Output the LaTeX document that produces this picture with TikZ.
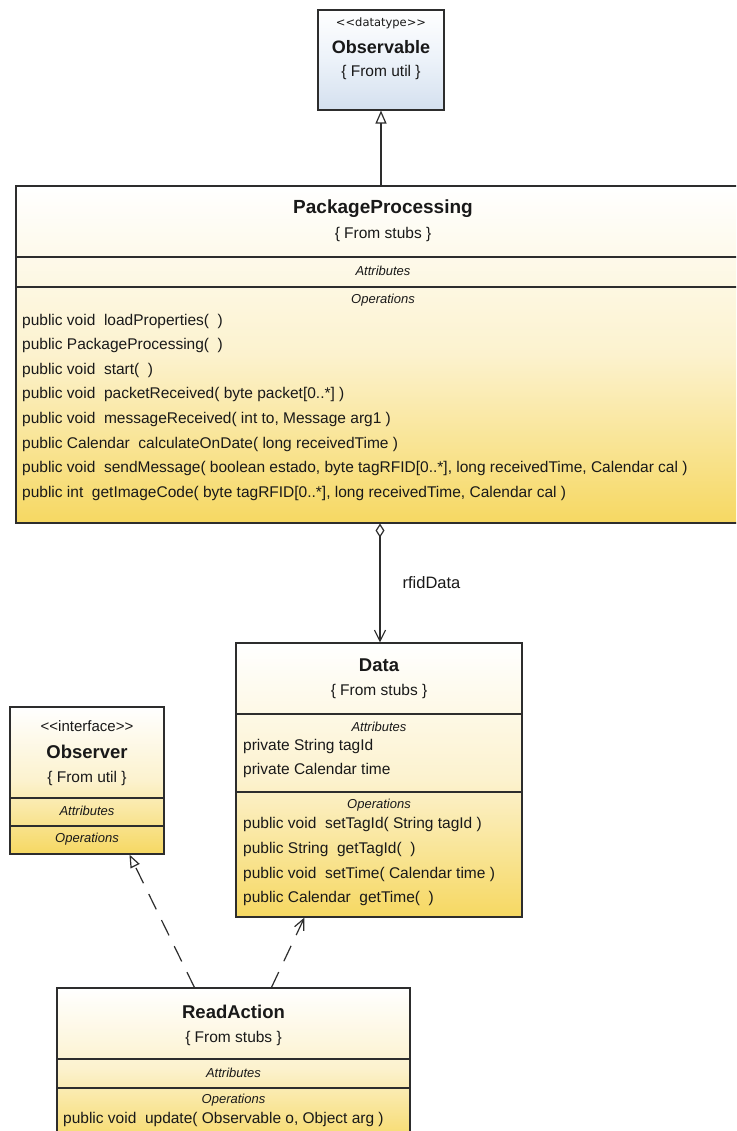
\documentclass[tikz,border=0pt]{standalone}
\usepackage{fontspec}
\setmainfont{Liberation Sans}
\newfontfamily\dejavu{DejaVu Sans}
\usetikzlibrary{arrows.meta,calc}
\definecolor{gold}{RGB}{246,216,98}
\definecolor{cream}{RGB}{252,242,206}
\definecolor{skyb}{RGB}{212,224,239}
\definecolor{skym}{RGB}{236,242,249}
\definecolor{edge}{RGB}{45,45,45}
\definecolor{ink}{RGB}{25,25,25}
\begin{document}
\begin{tikzpicture}[x=1pt,y=-1pt,
  classbox/.style={draw=edge, line width=1.1pt, inner sep=0pt, top color=white, bottom color=gold, middle color=cream},
  bluebox/.style={draw=edge, line width=1.1pt, inner sep=0pt, top color=white, bottom color=skyb, middle color=skym},
  sepline/.style={draw=edge, line width=1.1pt},
  title/.style={text=ink, inner sep=0pt, font=\fontsize{18.5}{22}\selectfont\bfseries},
  sub/.style={text=ink, inner sep=0pt, font=\fontsize{15.5}{18}\selectfont},
  stereo/.style={text=ink, inner sep=0pt, font=\fontsize{15}{18}\selectfont},
  sect/.style={text=ink, inner sep=0pt, font=\fontsize{13}{15}\selectfont\itshape},
  op/.style={text=ink, inner sep=0pt, anchor=west, font=\fontsize{15.5}{18}\selectfont},
  conn/.style={draw=edge, line width=1.2pt},
  dconn/.style={draw=edge, line width=1.2pt, dash pattern=on 17pt off 12pt},
  lbl/.style={text=ink, inner sep=0pt, font=\fontsize{16.5}{19}\selectfont}
]
\useasboundingbox (0,0) rectangle (736,1131);
\clip (0,0) rectangle (736,1131);
\fill[white] (0,0) rectangle (736,1131);

% ---------- Observable ----------
\node[bluebox, minimum width=126pt, minimum height=100pt] (obs) at (381,60) {};
\node[stereo, font=\dejavu\fontsize{11.5}{14}\selectfont] (obsst) at (381,23) {<\kern0pt<datatype>\kern0pt>};
\node[title, font=\fontsize{18}{22}\selectfont\bfseries] (obsti) at (381,47) {Observable};
\node[sub] (obssu) at (381,72) {\{ From util \}};

% ---------- PackageProcessing ----------
\node[classbox, minimum width=728pt, minimum height=337pt] (pp) at (380,354.5) {};
\draw[sepline] (pp.west |- 0,257) -- (pp.east |- 0,257);
\draw[sepline] (pp.west |- 0,287) -- (pp.east |- 0,287);
\node[title, font=\fontsize{19}{22}\selectfont\bfseries] (ppti) at (383,209) {PackageProcessing};
\node[sub] (ppsu) at (383,234) {\{ From stubs \}};
\node[sect] (ppat) at (383,271) {Attributes};
\node[sect] (ppop) at (383,300) {Operations};
\node[op] (op1) at (22,321) {public void~ loadProperties(~ )};
\node[op] (op2) at (22,345.6) {public PackageProcessing(~ )};
\node[op] (op3) at (22,370.2) {public void~ start(~ )};
\node[op] (op4) at (22,394.8) {public void~ packetReceived( byte packet[0..*] )};
\node[op] (op5) at (22,419.4) {public void~ messageReceived( int to, Message arg1 )};
\node[op] (op6) at (22,444) {public Calendar~ calculateOnDate( long receivedTime )};
\node[op] (op7) at (22,468.6) {public void~ sendMessage( boolean estado, byte tagRFID[0..*], long receivedTime, Calendar cal )};
\node[op] (op8) at (22,493.2) {public int~ getImageCode( byte tagRFID[0..*], long receivedTime, Calendar cal )};

% ---------- Data ----------
\node[classbox, minimum width=286pt, minimum height=274pt] (data) at (379,780) {};
\draw[sepline] (data.west |- 0,714) -- (data.east |- 0,714);
\draw[sepline] (data.west |- 0,792) -- (data.east |- 0,792);
\node[title] (dati) at (379,665) {Data};
\node[sub] (dasu) at (379,691) {\{ From stubs \}};
\node[sect] (daat) at (379,727) {Attributes};
\node[op] (da1) at (243,746) {private String tagId};
\node[op] (da2) at (243,770) {private Calendar time};
\node[sect] (daop) at (379,805) {Operations};
\node[op] (dm1) at (243,824) {public void~ setTagId( String tagId )};
\node[op] (dm2) at (243,849) {public String~ getTagId(~ )};
\node[op] (dm3) at (243,874) {public void~ setTime( Calendar time )};
\node[op] (dm4) at (243,898) {public Calendar~ getTime(~ )};

% ---------- Observer ----------
\node[classbox, minimum width=154pt, minimum height=147pt] (obsr) at (87,780.5) {};
\draw[sepline] (obsr.west |- 0,798) -- (obsr.east |- 0,798);
\draw[sepline] (obsr.west |- 0,826) -- (obsr.east |- 0,826);
\node[stereo] (orst) at (87,726) {<\kern0pt<interface>\kern0pt>};
\node[title] (orti) at (87,752) {Observer};
\node[sub] (orsu) at (87,778) {\{ From util \}};
\node[sect] (orat) at (87,811) {Attributes};
\node[sect] (orop) at (87,839) {Operations};

% ---------- ReadAction ----------
\node[classbox, minimum width=353pt, minimum height=160pt] (ra) at (233.5,1068) {};
\draw[sepline] (ra.west |- 0,1059) -- (ra.east |- 0,1059);
\draw[sepline] (ra.west |- 0,1088) -- (ra.east |- 0,1088);
\node[title] (rati) at (233.5,1012) {ReadAction};
\node[sub] (rasu) at (233.5,1038) {\{ From stubs \}};
\node[sect] (raat) at (233.5,1073) {Attributes};
\node[sect] (raop) at (233.5,1100) {Operations};
\node[op] (ram1) at (63,1119) {public void~ update( Observable o, Object arg )};

% ---------- connectors ----------
\draw[conn, -{Triangle[open,length=13pt,width=11pt]}] (pp.north -| obs.south) -- (obs.south);
\draw[conn, {Diamond[open,length=14pt,width=9pt]}-{Straight Barb[length=11pt,width=11pt]}]
  (pp.south) -- node[lbl, anchor=west, xshift=22pt] (lab) {rfidData} (pp.south |- data.north);

\coordinate (ra1) at ($(ra.north west)+(138,0)$);
\coordinate (ra2) at ($(ra.north west)+(215,0)$);
\coordinate (obsrt) at ($(obsr.south west)+(120,0)$);
\coordinate (datat) at ($(data.south west)+(69,0)$);
\draw[dconn, -{Triangle[open,length=13pt,width=10pt]}] (ra1) -- (obsrt);
\draw[dconn, -{Straight Barb[length=11pt,width=10pt]}] (ra2) -- (datat);
\end{tikzpicture}
\end{document}
